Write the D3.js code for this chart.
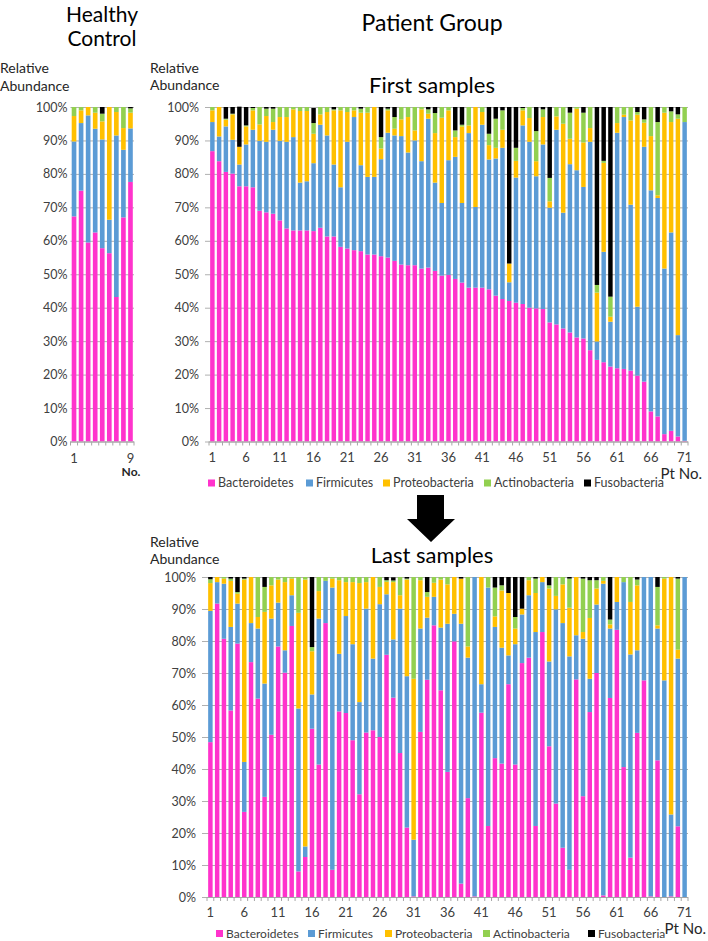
<!DOCTYPE html>
<html><head><meta charset="utf-8">
<script src="https://cdn.jsdelivr.net/npm/d3@7"></script>
<style>
body{margin:0;background:#fff}
svg{display:block}
text{font-family:Lato,"Open Sans",sans-serif}
</style>
</head><body>
<svg id="chart" width="708" height="941"></svg>
<script>
// ---------- DATA ----------
const phyla = ["Bacteroidetes","Firmicutes","Proteobacteria","Actinobacteria","Fusobacteria"];
const phylumColors = ["#FF33CC","#5B9BD5","#FFC000","#92D050","#000000"];
const yTickValues = [0,10,20,30,40,50,60,70,80,90,100];

const hcNumbers = [1,2,3,4,5,6,7,8,9];
const hcTickLabels = [1,9];
const hcBact = [67.3,75,59.5,62.5,57.8,56.3,43.2,67,77.6];
const hcFirm = [22.4,20.2,38,31,32.5,10,48.3,20.2,16];
const hcProt = [7.6,3.8,2.5,4.8,5.4,33.7,7,6.5,4.7];
const hcActi = [2.7,1,0,1.7,2.3,0,1.5,6.3,1.3];
const hcFuso = [0,0,0,0,2,0,0,0,0.4];

const ptNumbers = d3.range(1,72);
const ptTickLabels = [1,6,11,16,21,26,31,36,41,46,51,56,61,66,71];

const firstBact = [86.8,83.8,80.6,80.1,76.3,76.3,76,69,68.5,68.1,
  66.1,63.7,63.1,63.1,63.1,62.9,63.9,61.3,61.3,58.2,
  57.7,57.2,56.9,55.9,55.9,55.4,55,54,52.9,52.7,
  52.7,51.7,52,51,49.6,49.8,48.6,47.5,46,46,
  46,45.5,43.6,42.6,42,41.5,41.1,40,39.8,39.6,
  35.6,35,33.8,32.6,31.1,30.8,27.3,24.4,23.7,22.4,
  21.9,21.7,21.2,19.7,17.9,9,7.5,2.2,3.2,1.5,0.2];
const firstFirm = [8.7,7.4,13.6,10.1,6.5,12.5,17.2,20.9,21.1,25.1,
  23.8,25.9,27.9,14.3,14.7,20.3,30.8,30.2,21.5,17.8,
  31.9,39.8,25.7,23.2,23.2,29,37.3,37.5,38.4,33.7,
  37.3,32.1,44.5,26.4,21.7,34.3,36.5,23.8,46.2,24.1,
  48.7,38.8,41,45.2,5.6,37.4,53.4,49.6,39.5,49.2,
  34.3,58.2,34.6,50.3,50,45.3,62.3,5.5,33,13.4,
  70.4,75.3,49.6,20.6,70.2,66.1,65.3,49.5,59.3,30.3,95.3];
const firstProt = [3.5,8.8,2,7.6,5.3,5.4,5.8,4.9,7.7,2.3,
  7.1,7.4,8.3,21.4,21,8.8,3.1,7,16.2,23,
  8.9,2,15.7,19.2,20.9,3.2,6.7,2,5,10.6,
  3,15.5,1.5,14.8,25.5,14.9,5.9,22.9,2.3,29.9,
  3.8,4.3,3.2,5.4,5.6,5,4.5,7.1,4.5,8.2,
  1.9,4,26.6,7.6,18.4,13.3,4.1,14.6,26.6,1.5,
  2.9,0.7,25.2,57.4,7.2,16.2,0.8,46.6,33,64.7,0];
const firstActi = [1,0,0.3,0.2,0,0.3,0.7,5.2,2.2,4,
  3,3,0.7,1.2,1.2,3.2,2.2,1.5,0.3,1,
  1.5,1,1.2,1.7,0,3.4,0.5,3.5,3.7,3,
  7,0.7,1.3,6,3.2,1,2,0.5,5.5,0,
  1.5,3.4,8.7,5.8,0,3.9,0.7,3.3,9,2.3,
  7,2.8,5,7.8,0.5,8.9,6.3,2.3,0.6,6,
  4.8,2.3,4,0.8,1,8.7,21.9,1.7,3.2,1.3,4.5];
const firstFuso = [0,0,3.5,2,12,5.5,0.3,0,0.5,0.5,
  0,0,0,0,0,4.5,0,0,0.7,0,
  0,0,0.5,0,0,9,0.5,3,0,0,
  0,0,0.7,1.8,0,0,7,5.3,0,0,
  0,8,3.5,1,46.8,12.2,0.3,0,7.2,0.7,
  21.2,0,0,1.7,0,1.7,0,53.2,16.1,56.7,
  0,0,0,1.5,3.7,0,4.5,0,1.3,2.2,0];

const lastBact = [48.4,91.7,80.7,58.3,79.2,26.6,73.4,62,31.3,50.7,
  78.3,70.1,84.7,8,12.5,52.6,41.4,85.6,8.5,58,
  57.5,49,32.1,51.4,52.1,50,75.7,62.3,45,21.7,
  0.2,51.6,67.9,84.9,64.6,39.1,79.9,4.2,30.9,0.2,
  57.6,22.2,43.4,41.7,66.5,41.4,73.1,74.8,22.2,82.8,
  47.1,29.2,15.4,8.5,68,31.5,57.8,70,0.5,62.2,
  83.5,40.6,12.3,51.3,67.7,0.2,42.7,0,0.2,22.1,0];
const lastFirm = [41,6.7,17.2,26.1,12.5,15.6,12.2,21.9,35.4,36.3,
  13.7,7,9.6,50.9,3.3,10.7,45.6,13.2,88.2,18,
  30.3,30,28.8,38.7,22.4,41.5,18.9,18.2,45.1,47.3,
  17.7,32.3,19.4,8.9,19.6,46.3,8.6,81.2,43.9,99.8,
  8.9,74.5,41,36.2,9,37.6,15.2,19.5,60.6,15.6,
  26.5,60.7,70.2,66.7,13.8,49.2,10.4,21.4,97.4,21.7,
  8.7,57.8,63.5,25.8,32.3,99.8,41.2,67.7,25.6,52.4,100];
const lastProt = [8.7,1.6,1.6,14.4,3.1,57,14.4,3.6,22.4,10.4,
  7.2,21.3,5.2,29.9,83.4,13.5,8.6,0,2.8,23,
  10.6,19.4,37.2,8.3,25.5,5.4,3.9,17.9,4.2,30.2,
  50.3,15.1,6.5,4.4,15,12.3,11.5,14.1,3.5,0,
  33.5,0,3.3,17.9,19.5,4.9,1.8,4.7,12.2,1.6,
  22.8,4.2,12.1,15.2,18.2,2.1,19,5,0.9,1.3,
  7.8,0,16.4,20.3,0,0,1,31.8,74.2,2.8,0];
const lastActi = [1.2,0,0.5,0.7,0.5,0.3,0,12.5,7.8,2.6,
  0.8,1.6,0.5,11.2,0.8,1.3,4.4,1.2,0.5,1,
  1.6,1.6,1.9,1.6,0,3.1,0.5,0.5,5.7,0.3,
  31.8,1,1.5,1.8,0.8,2.3,0,0,21.7,0,
  0,3.3,9,1.6,0,3.6,0,1,4.5,0,
  1,5.9,2.3,9.1,0,16.7,11.8,2.6,1.2,1.5,
  0,1.6,7.8,1.8,0,0,12,0.5,0,22.2,0];
const lastFuso = [0.7,0,0,0.5,4.7,0.5,0,0,3.1,0,
  0,0,0,0,0,21.9,0,0,0,0,
  0,0,0,0,0,0,1,1,0,0.5,
  0,0,4.7,0,0,0,0,0.5,0,0,
  0,0,3.3,2.6,5,12.5,9.9,0,0.5,0,
  2.6,0,0,0.5,0,0.5,1,1,0,13.3,
  0,0,0,0.8,0,0,3.1,0,0,0.5,0];

// ---------- DRAWING ----------
const svg = d3.select("#chart");
const labelColor = "#404040";

function drawPanel(cfg) {
  const g = svg.append("g");
  const rows = cfg.cats.map((c, i) => {
    const r = {cat: c};
    phyla.forEach((p, j) => r[p] = cfg.series[j][i]);
    return r;
  });
  const stacked = d3.stack().keys(phyla)(rows);
  const x = d3.scaleBand().domain(cfg.cats).range([cfg.x0, cfg.x1])
    .paddingInner(0.34).paddingOuter(0.17);
  const y = d3.scaleLinear().domain([0, 100]).range([cfg.yBottom, cfg.yTop]);

  // y axis with gridlines
  const yAxis = d3.axisLeft(y).tickValues(yTickValues).tickFormat(d => d + "%")
    .tickSize(-(cfg.x1 - cfg.x0 + cfg.outTick)).tickSizeOuter(0).tickPadding(cfg.labelPad);
  const ya = g.append("g").attr("transform", `translate(${cfg.x0 - cfg.outTick},0)`).call(yAxis);
  ya.select(".domain").remove();
  ya.selectAll(".tick line").attr("stroke", "#B0B0B0").attr("stroke-width", 1);
  ya.selectAll(".tick text").attr("fill", labelColor).style("font-size", "12.5px")
    .style("font-family", "Lato, sans-serif");

  // bars
  g.append("g").selectAll("g").data(stacked).join("g")
    .attr("fill", (d, i) => phylumColors[i])
    .selectAll("rect").data(d => d).join("rect")
    .attr("x", d => x(d.data.cat))
    .attr("width", x.bandwidth())
    .attr("y", d => y(d[1]))
    .attr("height", d => Math.max(0, y(d[0]) - y(d[1])));

  // x axis line + ticks between categories
  const step = x.step();
  g.append("line").attr("x1", cfg.x0).attr("x2", cfg.x1)
    .attr("y1", cfg.yBottom + 0.5).attr("y2", cfg.yBottom + 0.5)
    .attr("stroke", "#A6A6A6");
  g.append("g").selectAll("line").data(d3.range(cfg.cats.length + 1)).join("line")
    .attr("x1", i => cfg.x0 + i * step).attr("x2", i => cfg.x0 + i * step)
    .attr("y1", cfg.yBottom).attr("y2", cfg.yBottom + 4)
    .attr("stroke", "#A6A6A6");

  // x tick labels
  g.append("g").selectAll("text").data(cfg.tickLabels).join("text")
    .attr("x", d => x(d) + x.bandwidth() / 2)
    .attr("y", cfg.yBottom + cfg.tickLabelDy)
    .attr("text-anchor", "middle")
    .attr("fill", labelColor).style("font-size", "13px")
    .text(d => d);
  return g;
}

function legend(yc, xs, size) {
  const g = svg.append("g");
  phyla.forEach((p, i) => {
    g.append("rect").attr("x", xs[i]).attr("y", yc - 3.5).attr("width", 7).attr("height", 7)
      .attr("fill", phylumColors[i]);
    g.append("text").attr("x", xs[i] + 10).attr("y", yc + 4.3)
      .attr("fill", labelColor).style("font-size", size + "px").text(p);
  });
}

function text(x, yy, s, size, opts = {}) {
  return svg.append("text").attr("x", x).attr("y", yy)
    .attr("text-anchor", opts.anchor || "start")
    .attr("fill", opts.fill || "#000")
    .style("font-size", size + "px")
    .style("font-weight", opts.bold ? "bold" : "normal")
    .text(s);
}

// Healthy control
drawPanel({cats: hcNumbers, series: [hcBact, hcFirm, hcProt, hcActi, hcFuso],
  x0: 70.5, x1: 134, yTop: 107, yBottom: 441.5, outTick: 0, labelPad: 3,
  tickLabels: hcTickLabels, tickLabelDy: 21});
// First samples
drawPanel({cats: ptNumbers, series: [firstBact, firstFirm, firstProt, firstActi, firstFuso],
  x0: 209, x1: 688, yTop: 107, yBottom: 441.5, outTick: 4, labelPad: 6,
  tickLabels: ptTickLabels, tickLabelDy: 20.5});
// Last samples
drawPanel({cats: ptNumbers, series: [lastBact, lastFirm, lastProt, lastActi, lastFuso],
  x0: 207, x1: 688, yTop: 577, yBottom: 897, outTick: 5, labelPad: 6,
  tickLabels: ptTickLabels, tickLabelDy: 19.5});

legend(483, [208, 306, 383, 484, 584], 12.5);
legend(933.5, [216, 308, 385, 483, 588], 12);

// Titles and axis captions
text(102, 21.5, "Healthy", 21, {anchor: "middle"});
text(102, 46, "Control", 21, {anchor: "middle"});
text(432, 31, "Patient Group", 23, {anchor: "middle"});
text(432, 93, "First samples", 22, {anchor: "middle"});
text(432, 563, "Last samples", 22, {anchor: "middle"});
text(0, 73, "Relative", 14, {fill: "#262626"});
text(0, 91, "Abundance", 14, {fill: "#262626"});
text(150, 73, "Relative", 14, {fill: "#262626"});
text(150, 90, "Abundance", 14, {fill: "#262626"});
text(150, 547, "Relative", 14, {fill: "#262626"});
text(150, 564, "Abundance", 14, {fill: "#262626"});
text(131, 476, "No.", 12, {anchor: "middle", bold: true, fill: "#262626"});
text(702, 479, "Pt No.", 15, {anchor: "end", fill: "#262626"});
text(706, 934, "Pt No.", 15, {anchor: "end", fill: "#262626"});

// Arrow between panels
const arrowPath = d3.path();
arrowPath.moveTo(417, 495); arrowPath.lineTo(444, 495); arrowPath.lineTo(444, 519);
arrowPath.lineTo(455, 519); arrowPath.lineTo(431, 542); arrowPath.lineTo(407, 519);
arrowPath.lineTo(417, 519); arrowPath.closePath();
svg.append("path").attr("d", arrowPath.toString()).attr("fill", "#000");
</script>
</body></html>
